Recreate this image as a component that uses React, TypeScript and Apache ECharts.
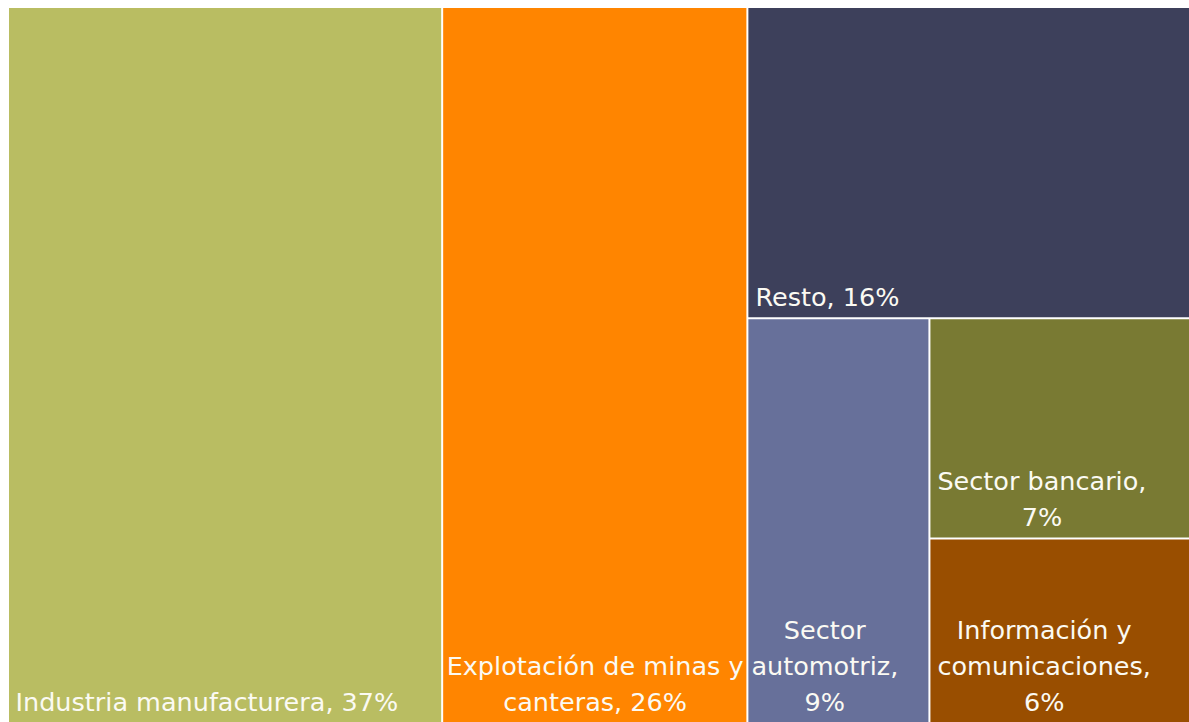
import React, { useEffect, useRef } from "react";
import * as echarts from "echarts";

// ---- data ----
const names = [
  "Industria manufacturera",
  "Explotación de minas y canteras",
  "Resto",
  "Sector automotriz",
  "Sector bancario",
  "Información y comunicaciones",
];
const values = [36.7, 25.8, 16.3, 8.7, 6.8, 5.7];
// label text as wrapped in the reference ("%" value appended from the data)
const labelTemplates = [
  "Industria manufacturera, {p}",
  "Explotación de minas y\ncanteras, {p}",
  "Resto, {p}",
  "Sector\nautomotriz,\n{p}",
  "Sector bancario,\n{p}",
  "Información y\ncomunicaciones,\n{p}",
];
const colors = ["#B9BD62", "#FF8500", "#3D405B", "#67709A", "#797A33", "#994E00"];

// ---- style ----
const FONT_FAMILY = "'DejaVu Sans', sans-serif";
const FONT_SIZE = 25.5;
const LINE_HEIGHT = 36;
const LABEL_PAD_LEFT = [6.5, 3.5, 7, 3, 7, 7];
const LABEL_PAD_BOTTOM = 2;

function measureWidth(text: string): number {
  const c = document.createElement("canvas");
  const ctx = c.getContext("2d")!;
  ctx.font = `${FONT_SIZE}px ${FONT_FAMILY}`;
  return Math.max(...text.split("\n").map((l) => ctx.measureText(l).width));
}

function leaf(i: number) {
  const text = labelTemplates[i].replace("{p}", Math.round(values[i]) + "%");
  const w = measureWidth(text);
  return {
    name: names[i],
    value: values[i],
    itemStyle: { color: colors[i], borderWidth: 1, borderColor: "#ffffff" },
    label: {
      show: true,
      formatter: () => text,
      position: [LABEL_PAD_LEFT[i] + w / 2, "100%"],
      align: "center",
      verticalAlign: "bottom",
      padding: [0, 0, LABEL_PAD_BOTTOM, 0],
      color: "#FBFAF3",
      fontFamily: FONT_FAMILY,
      fontSize: FONT_SIZE,
      lineHeight: LINE_HEIGHT,
      overflow: "none",
    },
  };
}

function group(children: any[]) {
  return {
    name: "",
    children,
    itemStyle: { borderWidth: 0, gapWidth: 0 },
  };
}

export default function App() {
  const ref = useRef<HTMLDivElement>(null);
  useEffect(() => {
    if (!ref.current) return;
    const chart = echarts.init(ref.current, undefined, { renderer: "svg" });
    const data = [
      leaf(0),
      leaf(1),
      group([leaf(2), group([leaf(3), group([leaf(4), leaf(5)])])]),
    ];
    chart.setOption({
      animation: false,
      backgroundColor: "#ffffff",
      series: [
        {
          type: "treemap",
          left: 8,
          top: 7,
          width: 1183,
          height: 716,
          sort: false,
          squareRatio: 1,
          roam: false,
          nodeClick: false,
          breadcrumb: { show: false },
          visibleMin: 0,
          itemStyle: { borderWidth: 0, gapWidth: 0, borderColor: "#ffffff" },
          emphasis: { disabled: true },
          upperLabel: { show: false },
          data,
        },
      ],
    });
    return () => chart.dispose();
  }, []);
  return (
    <div
      style={{
        position: "fixed",
        left: 0,
        top: 0,
        width: 1189,
        height: 722,
        overflow: "hidden",
        background: "#fff",
      }}
    >
      <div ref={ref} style={{ width: 1189, height: 722 }} />
    </div>
  );
}
